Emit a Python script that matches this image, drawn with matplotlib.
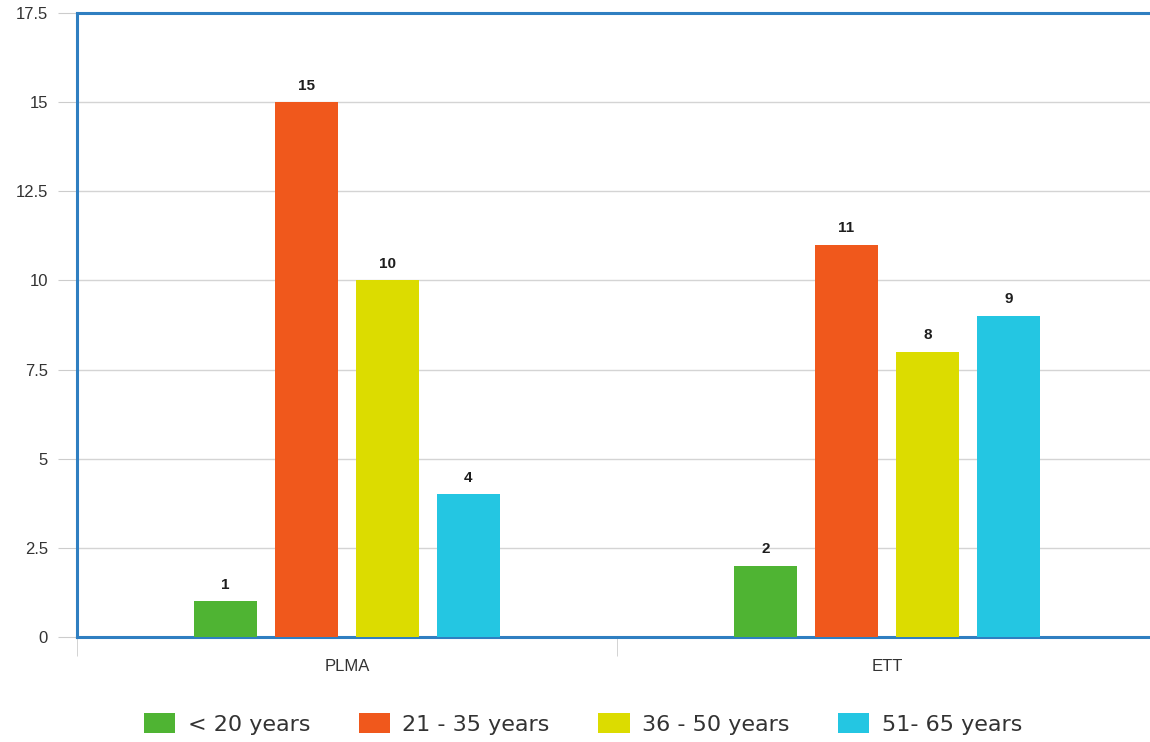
import matplotlib.pyplot as plt
from matplotlib.patches import Patch
import numpy as np

categories = ["PLMA", "ETT"]
series_labels = ["< 20 years", "21 - 35 years", "36 - 50 years", "51- 65 years"]
series_values = [
    [1, 2],
    [15, 11],
    [10, 8],
    [4, 9],
]
colors = ["#4fb433", "#f0581c", "#dcdc00", "#24c6e2"]
yticks = [0, 2.5, 5, 7.5, 10, 12.5, 15, 17.5]
ytick_labels = ["0", "2.5", "5", "7.5", "10", "12.5", "15", "17.5"]

W, H = 1150, 742
fig = plt.figure(figsize=(W / 100, H / 100), dpi=100)
ax = fig.add_axes([77 / W, (H - 637) / H, 1080 / W, (637 - 13) / H])

label_font = "Liberation Sans"

x = np.arange(len(categories))
bar_w = 0.115
step = 0.15
offsets = (np.arange(len(series_labels)) - 1.5) * step

for i, (vals, col) in enumerate(zip(series_values, colors)):
    bars = ax.bar(x + offsets[i], vals, width=bar_w, color=col, zorder=3)
    for b, v in zip(bars, vals):
        ax.text(b.get_x() + b.get_width() / 2, v + 0.27, f"{v}",
                ha="center", va="bottom", fontsize=11, fontweight="bold",
                family=label_font, color="#1e1e1e", zorder=4)

ax.set_xlim(-0.5, len(categories) - 0.5)
ax.set_ylim(0, 17.5)
ax.set_yticks(yticks)
ax.set_yticklabels(ytick_labels, family=label_font)
ax.yaxis.grid(True, color="#d4d4d4", linewidth=1, zorder=0)
ax.tick_params(axis="y", length=14, color="#cccccc", labelsize=12,
               labelcolor="#333333", pad=7)

# category labels at centres, boundary ticks between groups
ax.set_xticks(x)
ax.set_xticklabels(categories, family=label_font)
ax.tick_params(axis="x", which="major", length=0, labelsize=12,
               labelcolor="#333333", pad=16)
ax.set_xticks(np.arange(-0.5, len(categories)), minor=True)
ax.tick_params(axis="x", which="minor", length=14, color="#cccccc")

for side in ["left", "bottom", "top", "right"]:
    ax.spines[side].set_color("#2f7fc1")
    ax.spines[side].set_linewidth(2.2)

handles = [Patch(facecolor=c, edgecolor="none") for c in colors]
fig.legend(handles, series_labels, loc="center", bbox_to_anchor=(0.507, 1 - 724 / H),
           ncol=4, frameon=False, fontsize=16, handlelength=1.4, handleheight=1.0,
           columnspacing=2.2, handletextpad=0.55, labelcolor="#333333")

fig.savefig("out.png", dpi=100, facecolor="white")
